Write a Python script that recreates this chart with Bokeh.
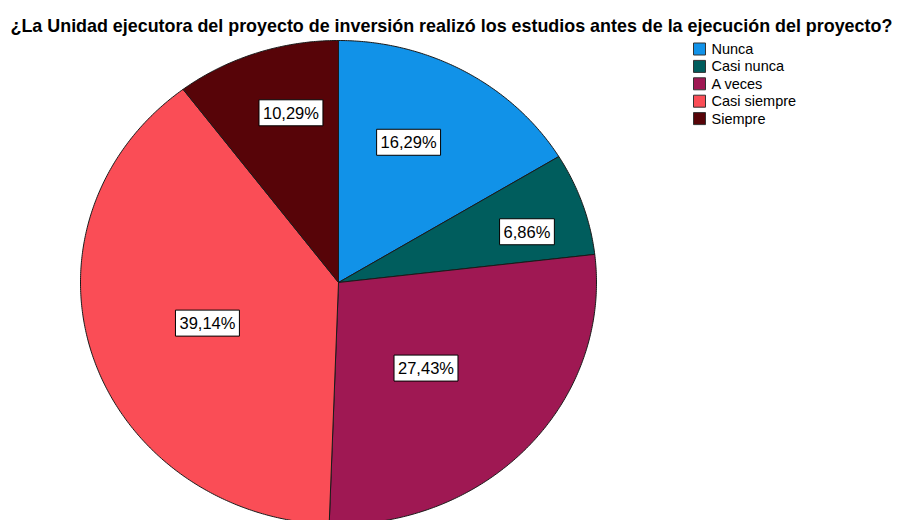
import numpy as np
from bokeh.plotting import figure
from bokeh.models import Range1d
from bokeh.core.properties import value
from bokeh.embed import file_html
from bokeh.resources import INLINE

# ---- data ----
title_text = "¿La Unidad ejecutora del proyecto de inversión realizó los estudios antes de la ejecución del proyecto?"
categories = ["Nunca", "Casi nunca", "A veces", "Casi siempre", "Siempre"]
percent = [16.29, 6.86, 27.43, 39.14, 10.29]
labels = ["16,29%", "6,86%", "27,43%", "39,14%", "10,29%"]
colors = ["#1192e8", "#005d5d", "#9f1853", "#fa4d56", "#570408"]

# label placement (fraction of radius, angular shift from slice middle in degrees)
label_radius_frac = [0.64, 0.76, 0.49, 0.535, 0.725]
label_angle_shift = [4.2, -3.0, -3.5, 0.8, -3.8]

W, H = 898, 520
FONT = "Liberation Sans"

p = figure(width=W, height=H, output_backend="svg", toolbar_location=None,
           x_range=Range1d(0, W), y_range=Range1d(0, H),
           x_axis_location=None, y_axis_location=None, min_border=0,
           background_fill_color="white", border_fill_color="white")
p.grid.visible = False
p.outline_line_color = None

def Y(sy):
    return H - sy

cx, cy = 338.0, Y(282.0)
rx, ry = 258.0, 242.0

total = float(sum(percent))
start = np.pi / 2
xs_list, ys_list, lx, ly = [], [], [], []
for frac_r, shift, pc in zip(label_radius_frac, label_angle_shift, percent):
    span = 2 * np.pi * pc / total
    end = start - span
    t = np.linspace(start, end, max(int(abs(np.degrees(span)) * 2), 8))
    xs_list.append(np.concatenate([[cx], cx + rx * np.cos(t), [cx]]))
    ys_list.append(np.concatenate([[cy], cy + ry * np.sin(t), [cy]]))
    mid = (start + end) / 2 + np.radians(shift)
    lx.append(cx + frac_r * rx * np.cos(mid))
    ly.append(cy + frac_r * ry * np.sin(mid))
    start = end

p.patches(xs_list, ys_list, fill_color=colors, line_color="#1a1a1a", line_width=1)

p.text(x=lx, y=ly, text=labels, text_font=value(FONT), text_font_size=value("16.5px"),
       text_color="black", text_align="center", text_baseline="middle",
       background_fill_color="white", border_line_color="black", border_line_width=1,
       padding=4)

# title
p.text(x=[10], y=[Y(25)], text=[title_text], text_font=value(FONT),
       text_font_size=value("17.9px"), text_font_style="bold", text_color="black",
       text_align="left", text_baseline="alphabetic")

# legend
lg_x, lg_y0, lg_dy = 699.0, 48.5, 17.4
lgy = [Y(lg_y0 + i * lg_dy) for i in range(len(categories))]
p.rect(x=[lg_x] * len(categories), y=lgy, width=12, height=12,
       fill_color=colors, line_color="#333333", line_width=1)
p.text(x=[711] * len(categories), y=lgy, text=categories, text_font=value(FONT),
       text_font_size=value("14.5px"), text_color="black", text_align="left",
       text_baseline="middle")

open("out.html", "w").write(file_html(p, INLINE))
